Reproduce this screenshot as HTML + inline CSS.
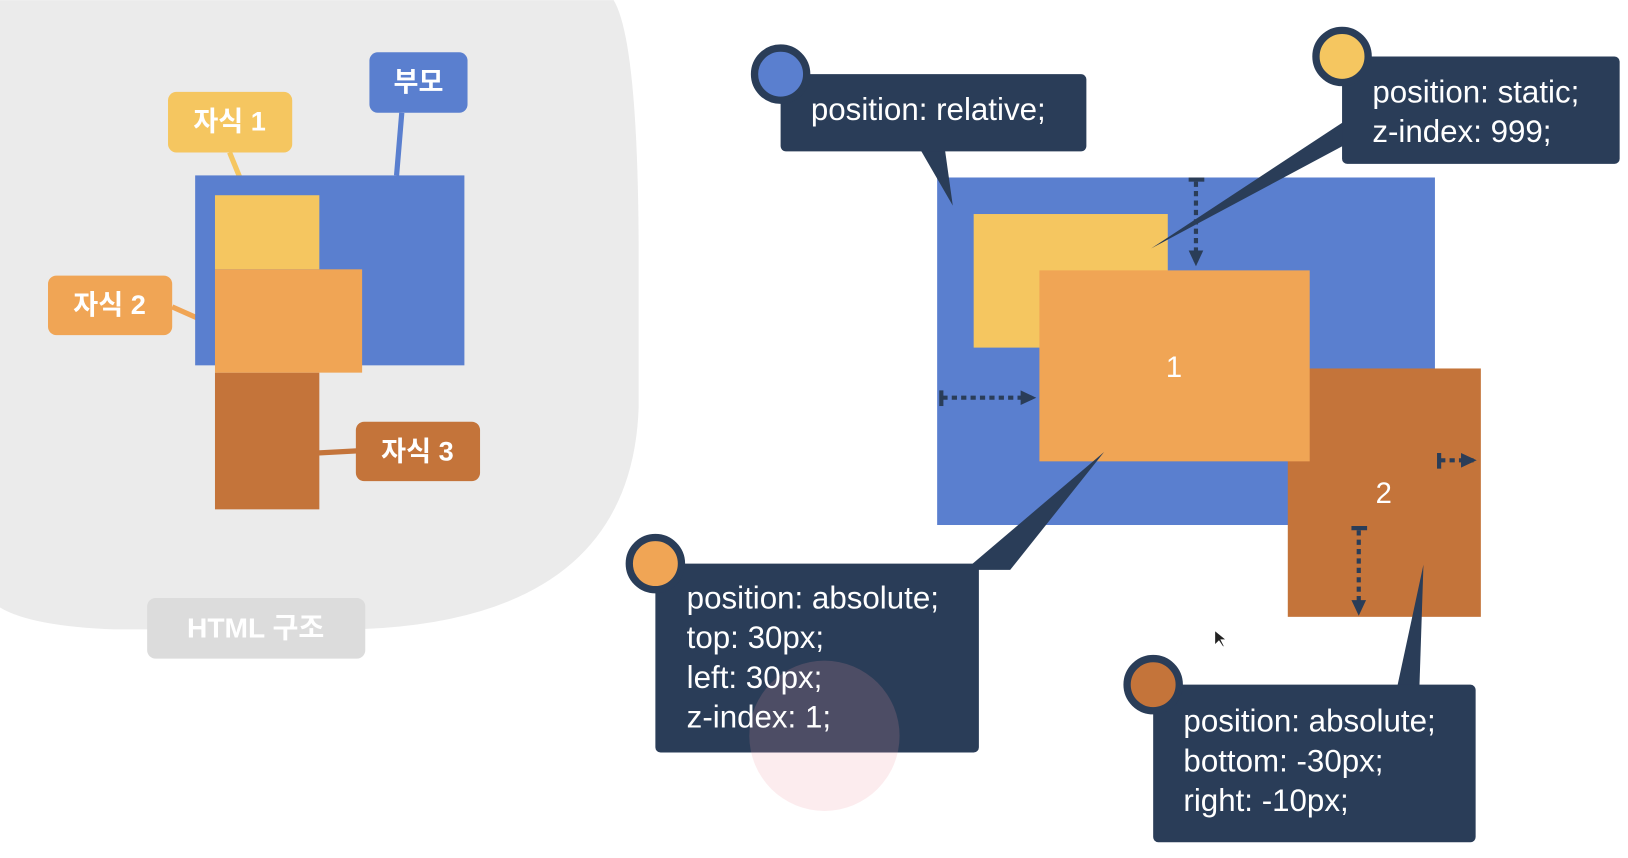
<!DOCTYPE html>
<html><head><meta charset="utf-8"><style>
html,body{margin:0;padding:0;background:#fff;width:1628px;height:858px;overflow:hidden}
svg{display:block}
.k{font-family:"Liberation Sans","Noto Sans CJK KR",sans-serif;font-weight:bold;fill:#fff;font-size:26px}
.c{font-family:"Liberation Sans","Noto Sans CJK KR",sans-serif;fill:#fff;font-size:30px}
</style></head><body>
<svg width="1628" height="858" viewBox="0 0 1560 822" xmlns="http://www.w3.org/2000/svg">
<defs>
<marker id="ah" markerWidth="16" markerHeight="16" refX="12" refY="8" orient="auto" markerUnits="userSpaceOnUse"><path d="M0,1 L15,8 L0,15Z" fill="#2a3d58"/></marker>
</defs>
<path d="M0,0 H588 Q612,40 612,250 V390 Q605,595 340,603 H110 Q30,600 0,582 Z" fill="#ebebeb"/>
<rect x="141" y="573" width="209" height="58" rx="8" fill="#dcdcdc"/>
<text class="k" x="245" y="611" text-anchor="middle" style="font-size:27px">HTML 구조</text>
<line x1="385" y1="108" x2="380" y2="168" stroke="#5a7fcf" stroke-width="5"/>
<line x1="220" y1="146" x2="238" y2="190" stroke="#f5c660" stroke-width="5"/>
<line x1="165" y1="294" x2="208" y2="313" stroke="#f0a555" stroke-width="5"/>
<line x1="304" y1="434" x2="342" y2="432" stroke="#c4743a" stroke-width="5"/>
<rect x="187" y="168" width="258" height="182" fill="#5a7fcf"/>
<rect x="206" y="187" width="100" height="71" fill="#f5c660"/>
<rect x="206" y="357" width="100" height="131" fill="#c4743a"/>
<rect x="206" y="258" width="141" height="99" fill="#f0a555"/>
<rect x="354" y="50" width="94" height="58" rx="8" fill="#5a7fcf"/>
<text class="k" x="401" y="87" text-anchor="middle">부모</text>
<rect x="161" y="88" width="119" height="58" rx="8" fill="#f5c660"/>
<text class="k" x="220" y="125" text-anchor="middle">자식 1</text>
<rect x="46" y="264" width="119" height="57" rx="8" fill="#f0a555"/>
<text class="k" x="105" y="301" text-anchor="middle">자식 2</text>
<rect x="341" y="404" width="119" height="57" rx="8" fill="#c4743a"/>
<text class="k" x="400" y="441" text-anchor="middle">자식 3</text>
<rect x="898" y="170" width="477" height="333" fill="#5a7fcf"/>
<rect x="933" y="205" width="186" height="128" fill="#f5c660"/>
<rect x="1234" y="353" width="185" height="238" fill="#c4743a"/>
<rect x="996" y="259" width="259" height="183" fill="#f0a555"/>
<text class="c" x="1125" y="361" text-anchor="middle" style="font-size:28px">1</text>
<text class="c" x="1326" y="482" text-anchor="middle" style="font-size:28px">2</text>
<g stroke="#2a3d58" stroke-width="4" fill="none">
<line x1="1146" y1="174" x2="1146" y2="252" stroke-dasharray="5,4" marker-end="url(#ah)"/>
<line x1="1139" y1="172" x2="1154" y2="172"/>
<line x1="903" y1="381" x2="990" y2="381" stroke-dasharray="5,4" marker-end="url(#ah)"/>
<line x1="902" y1="374" x2="902" y2="389"/>
<line x1="1380" y1="441" x2="1412" y2="441" stroke-dasharray="5,4" marker-end="url(#ah)"/>
<line x1="1379" y1="434" x2="1379" y2="449"/>
<line x1="1302" y1="508" x2="1302" y2="587" stroke-dasharray="5,4" marker-end="url(#ah)"/>
<line x1="1295" y1="506" x2="1310" y2="506"/>
</g>
<g fill="#2a3d58">
<polygon points="880,140 905,140 913,197"/>
<rect x="748" y="71" width="293" height="74" rx="5"/>
<polygon points="1290,115 1290,138 1103,238"/>
<rect x="1286" y="54" width="266" height="103" rx="5"/>
<polygon points="925,546 968,546 1058,433"/>
<rect x="628" y="540" width="310" height="181" rx="5"/>
<polygon points="1338,662 1360,662 1364,541"/>
<rect x="1105" y="656" width="309" height="151" rx="5"/>
</g>
<circle cx="790" cy="705" r="72" fill="rgba(240,150,160,0.18)"/>
<g stroke="#2a3d58" stroke-width="7">
<circle cx="748" cy="71" r="25" fill="#5a7fcf"/>
<circle cx="1286" cy="54" r="25" fill="#f5c660"/>
<circle cx="628" cy="540" r="25" fill="#f0a555"/>
<circle cx="1105" cy="656" r="25" fill="#c4743a"/>
</g>
<text class="c" x="777" y="115">position: relative;</text>
<text class="c" x="1315" y="98">position: static;</text>
<text class="c" x="1315" y="136">z-index: 999;</text>
<text class="c" x="658" y="583">position: absolute;</text>
<text class="c" x="658" y="621">top: 30px;</text>
<text class="c" x="658" y="659">left: 30px;</text>
<text class="c" x="658" y="697">z-index: 1;</text>
<text class="c" x="1134" y="701">position: absolute;</text>
<text class="c" x="1134" y="739">bottom: -30px;</text>
<text class="c" x="1134" y="777">right: -10px;</text>
<path d="M1164,604 L1164,618 L1168,614 L1172,620 L1173,619 L1170,613 L1175,613 Z" fill="#222" stroke="#fff" stroke-width="0.8"/>
</svg>
</body></html>
